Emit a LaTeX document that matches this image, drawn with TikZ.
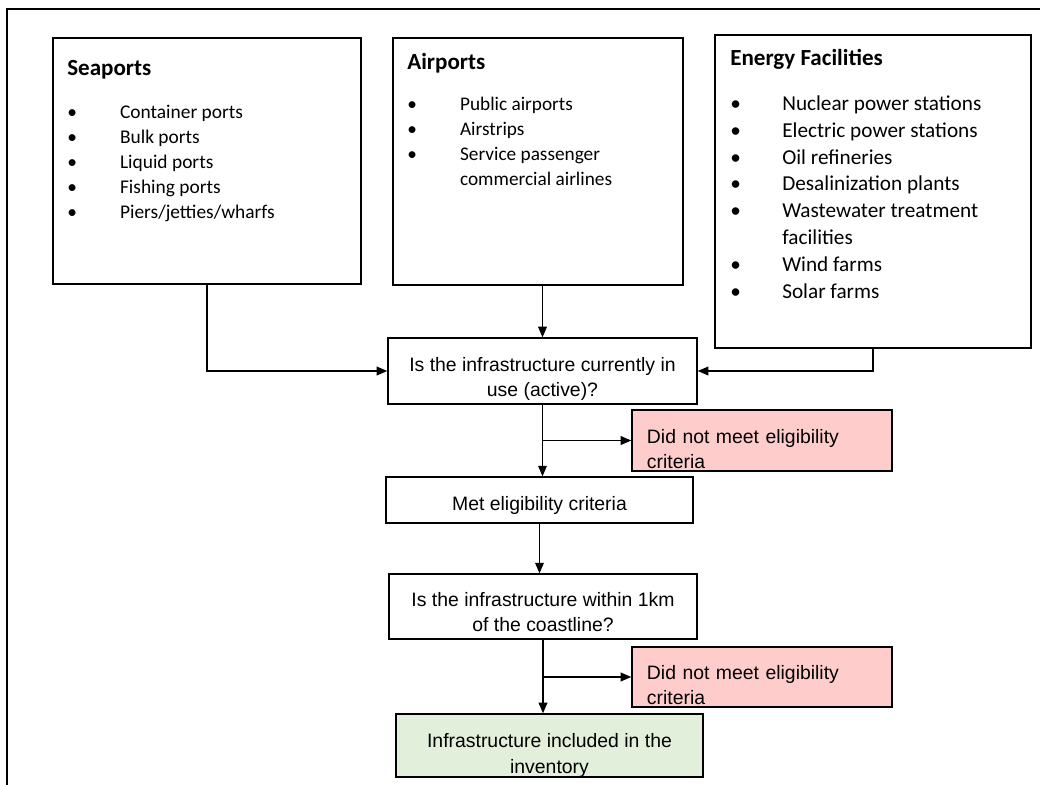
\documentclass[tikz,border=0pt]{standalone}
\usepackage{fontspec}
\setmainfont{Liberation Sans}
\newfontfamily\listfont{Carlito}
\usepackage{array}
\definecolor{failpink}{RGB}{255,204,204}
\definecolor{passgreen}{RGB}{226,239,218}
\usetikzlibrary{arrows.meta,positioning,calc}
\newcommand{\padtop}[1]{\rule{0pt}{#1}}

\begin{document}
\begin{tikzpicture}[x=0.025cm, y=-0.025cm,
    listbox/.style={rectangle, draw=black, line width=1pt, inner sep=0pt},
    listtext/.style={anchor=base west, inner sep=0pt},
    flowbox/.style={rectangle, draw=black, line width=1pt, inner sep=0pt, align=center,
      font=\fontsize{13.8}{17.8}\selectfont},
    failbox/.style={flowbox, fill=failpink, align=left, text width=5.75cm, inner xsep=0.375cm,
      minimum width=6.5cm, minimum height=1.525cm},
    passbox/.style={flowbox, fill=passgreen},
    arr/.style={-{Triangle[length=7.5pt, width=6.2pt]}, line width=0.85pt},
    frame/.style={line width=2pt}
  ]
    \useasboundingbox (0,0) rectangle (1040,784);
    \draw[frame] (7,800) -- (7,9) -- (1050,9);

    % Source boxes
    \node[listbox, minimum width=7.7cm, minimum height=6.15cm] (sea) at (207,161) {};
    \node[listbox, minimum width=7.25cm, minimum height=6.175cm] (air) at (538,161.5) {};
    \node[listbox, minimum width=7.9cm, minimum height=7.825cm] (energy) at (873,191.5) {};

    \node[listtext, font=\listfont\fontsize{13.8}{17.8}\selectfont] (seatext) at (67,75) {%
      \begin{tabular}[t]{@{}p{1.32cm}@{}l@{}}
        \multicolumn{2}{@{}l@{}}{\fontsize{16.4}{17.8}\selectfont\bfseries Seaports}\\[12.8pt]
        \textbullet & Container ports\\
        \textbullet & Bulk ports\\
        \textbullet & Liquid ports\\
        \textbullet & Fishing ports\\
        \textbullet & Piers/jetties/wharfs
      \end{tabular}};
    \node[listtext, font=\listfont\fontsize{13.7}{17.8}\selectfont] (airtext) at (407,69) {%
      \begin{tabular}[t]{@{}p{1.32cm}@{}l@{}}
        \multicolumn{2}{@{}l@{}}{\fontsize{16.4}{17.8}\selectfont\bfseries Airports}\\[11.4pt]
        \textbullet & Public airports\\
        \textbullet & Airstrips\\
        \textbullet & Service passenger\\
                    & commercial airlines
      \end{tabular}};
    \node[listtext, font=\listfont\fontsize{15.1}{19.2}\selectfont] (energytext) at (730,65) {%
      \begin{tabular}[t]{@{}p{1.3cm}@{}l@{}}
        \multicolumn{2}{@{}l@{}}{\fontsize{16.4}{19.2}\selectfont\bfseries Energy Facilities}\\[12.8pt]
        \textbullet & Nuclear power stations\\
        \textbullet & Electric power stations\\
        \textbullet & Oil refineries\\
        \textbullet & Desalinization plants\\
        \textbullet & Wastewater treatment\\
                    & facilities\\
        \textbullet & Wind farms\\
        \textbullet & Solar farms
      \end{tabular}};

    % Decision steps
    \node[flowbox, minimum width=7.725cm, minimum height=1.65cm] (active) at (542.5,371)
      {\padtop{22pt}Is the infrastructure currently in\\use (active)?};
    \node[failbox] (fail1) at (762,440.5)
      {\padtop{22.8pt}Did not meet eligibility\\criteria};
    \node[flowbox, minimum width=7.675cm, minimum height=1.15cm] (met) at (539.5,500)
      {\padtop{17.1pt}Met eligibility criteria};
    \node[flowbox, minimum width=7.7cm, minimum height=1.625cm] (coast) at (543,606.5)
      {\padtop{18.5pt}Is the infrastructure within 1km\\of the coastline?};
    \node[failbox, minimum height=1.5cm] (fail2) at (762,677)
      {\padtop{22pt}Did not meet eligibility\\criteria};
    \node[passbox, minimum width=7.675cm, minimum height=1.575cm] (inv) at (549.5,745.5)
      {\padtop{24.2pt}Infrastructure included in the\\inventory};

    % Arrows
    \draw[arr] (sea.south) |- (active.west);
    \draw[arr] (active.north |- air.south) -- (active.north);
    \draw[arr] (energy.south) |- (active.east);
    \draw[arr] (active.south) -- (active.south |- met.north);
    \coordinate (split1) at (active.south |- fail1.west);
    \draw[arr] (split1) -- (fail1.west);
    \draw[arr] (met.south) -- (met.south |- coast.north);
    \draw[arr] (coast.south) -- (coast.south |- inv.north);
    \coordinate (split2) at (coast.south |- fail2.west);
    \draw[arr] (split2) -- (fail2.west);
  \end{tikzpicture}
\end{document}
